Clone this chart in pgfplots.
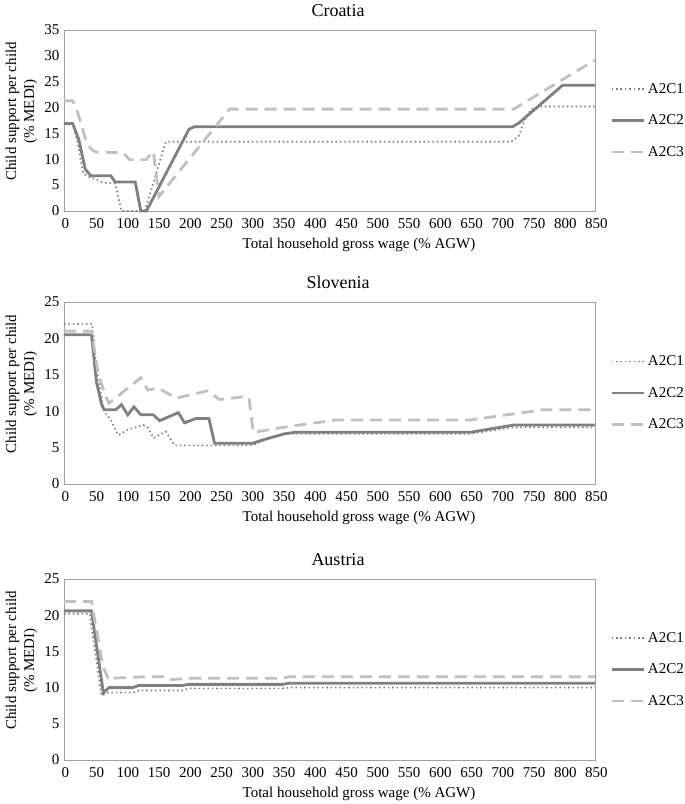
\documentclass[border=0pt]{standalone}
\usepackage{pgfplots}
\pgfplotsset{compat=1.18}
\usepackage{fontspec}
\setmainfont{Liberation Serif}
\definecolor{cdot}{RGB}{128,128,128}
\definecolor{csol}{RGB}{128,128,128}
\definecolor{cdash}{RGB}{192,192,192}
\definecolor{cbox}{RGB}{160,160,160}
\pgfplotsset{
 panel/.style={
  scale only axis, width=531pt, height=181pt,
  xmin=0, xmax=850, ymin=0, clip=false,
  xtick={0,50,...,850},
  axis line style={cbox, line width=0.8pt},
  major tick length=0pt,
  tick style={draw=none},
  font=\fontsize{15}{18}\selectfont,
  /pgf/number format/assume math mode=true,
  xticklabel style={anchor=base, yshift=-17pt, xshift=1.5pt},
  yticklabel style={anchor=east, xshift=-1pt},
  title style={at={(0.5,1)}, anchor=base, yshift=8pt, xshift=8.5pt, font=\fontsize{18}{21}\selectfont},
  xlabel={Total household gross wage (\% AGW)},
  xlabel style={at={(axis description cs:0.5556,0)}, anchor=base, yshift=-37pt},
  ylabel={Child support per child\\(\% MEDI)},
  ylabel style={align=center, at={(axis description cs:-0.0435,0.55)}, anchor=south},
  legend style={draw=none, fill=none, at={(1,0.5)}, anchor=west, xshift=12pt,
    row sep=14pt, nodes={inner sep=3pt}, font=\fontsize{15}{18}\selectfont},
  legend cell align=left,
  legend image code/.code={\draw[##1] (0pt,0pt) -- (32pt,0pt);},
 },
 s1/.style={cdot, line width=1.6pt, dash pattern=on 1.6pt off 2.8pt},
 s2/.style={csol, line width=2.8pt},
 s3/.style={cdash, line width=2.8pt, dash pattern=on 12pt off 7pt},
}
\begin{document}
\begin{tikzpicture}
\useasboundingbox (0,0) rectangle (685pt,-804pt);
% Croatia
\begin{axis}[panel, at={(64pt,-30pt)}, anchor=north west, ymax=35, ytick={0,5,...,35}, title={Croatia}]
\addplot[s1] coordinates {(0,16.9)(14,16.9)(22,13)(31,7.2)(40,6.6)(50,6.2)(60,5.6)(70,5.4)(82,5.3)(92,0)(129,0)(140,4.2)(150,8.3)(163,13.4)(716,13.4)(728,14.5)(740,18.4)(750,19.8)(762,20.2)(850,20.2)};
\addlegendentry{A2C1}
\addplot[s2] coordinates {(0,16.9)(14,16.9)(24,13.7)(34,8.1)(43,6.8)(75,6.8)(82,5.6)(114,5.6)(123,0)(132,0)(200,15.8)(209,16.3)(718,16.3)(728,17.0)(798,24.3)(850,24.3)};
\addlegendentry{A2C2}
\addplot[s3] coordinates {(0,21.3)(14,21.3)(20,19.8)(27,17)(35,13.7)(43,12)(51,11.4)(83,11.3)(95,11.2)(105,9.9)(131,9.9)(143,11.5)(152,2.8)(265,19.7)(720,19.7)(850,29.2)};
\addlegendentry{A2C3}
\end{axis}
% Slovenia
\begin{axis}[panel, at={(64pt,-302pt)}, anchor=north west, height=182pt, ymax=25, ytick={0,5,...,25}, title={Slovenia}]
\addplot[s1] coordinates {(0,22)(45,22)(52,16)(64,10)(75,8.8)(87,6.7)(103,7.5)(127,8.1)(135,7.7)(143,6.3)(163,7.2)(177,5.3)(302,5.3)(320,6.0)(356,6.9)(650,6.9)(720,7.8)(850,7.8)};
\addlegendentry{A2C1}
\addplot[s2] coordinates {(0,20.5)(44,20.5)(52,14)(60,11)(64,10.2)(83,10.2)(92,10.9)(102,9.5)(112,10.6)(123,9.5)(143,9.5)(153,8.7)(183,9.8)(193,8.4)(211,9.0)(232,9.0)(241,5.6)(302,5.6)(320,6.1)(353,6.9)(370,7.1)(650,7.1)(720,8.1)(850,8.1)};
\addlegendentry{A2C2}
\addplot[s3] coordinates {(0,21)(44,21)(55,15)(67,12)(72,11.1)(123,14.6)(134,12.9)(150,13.2)(180,11.8)(230,12.8)(249,11.6)(290,12)(296,11.9)(303,7.1)(360,7.9)(436,8.8)(650,8.8)(700,9.4)(767,10.2)(850,10.2)};
\addlegendentry{A2C3}
\end{axis}
% Austria
\begin{axis}[panel, at={(64pt,-579pt)}, anchor=north west, ymax=25, ytick={0,5,...,25}, title={Austria}]
\addplot[s1] coordinates {(0,20.2)(41,20.2)(60,8.9)(70,9.3)(110,9.3)(120,9.6)(190,9.6)(200,9.9)(350,9.9)(360,10.0)(850,10.0)};
\addlegendentry{A2C1}
\addplot[s2] coordinates {(0,20.6)(44,20.6)(63,9.3)(72,10.0)(110,10.0)(120,10.3)(190,10.3)(200,10.45)(350,10.45)(360,10.6)(850,10.6)};
\addlegendentry{A2C2}
\addplot[s3] coordinates {(0,21.9)(44,21.9)(52,18)(62,13)(72,11)(80,11.3)(130,11.5)(160,11.5)(170,11.1)(200,11.3)(350,11.3)(360,11.5)(850,11.5)};
\addlegendentry{A2C3}
\end{axis}
\end{tikzpicture}
\end{document}
